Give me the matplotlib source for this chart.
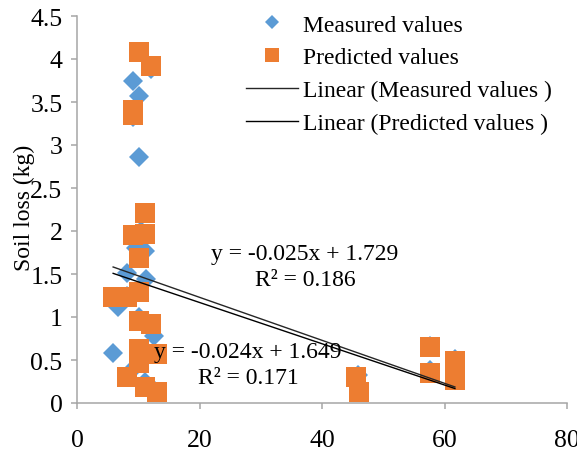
import matplotlib
matplotlib.use('Agg')
import matplotlib.pyplot as plt
import numpy as np

plt.rcParams['font.family'] = ['Liberation Serif', 'DejaVu Serif']

# measured soil loss (blue diamonds)
measured_x = [9.1, 10.1, 12.1, 9.1, 10.1, 11.1, 9.6, 8.1, 11.3, 6.7, 12.6, 5.9, 8.5,
              10.1, 10.1, 11.1, 12.5, 10.5, 8.1, 45.8, 46.0, 57.7, 57.7, 61.7, 61.7]
measured_y = [3.75, 3.57, 3.88, 3.33, 2.86, 1.77, 1.80, 1.51, 1.44, 1.12, 0.78, 0.58, 0.35,
              1.00, 0.60, 0.25, 0.15, 2.00, 1.25, 0.33, 0.15, 0.66, 0.38, 0.51, 0.30]

# predicted soil loss (orange squares)
predicted_x = [10.1, 12.1, 9.1, 9.1, 11.1, 9.1, 11.1, 10.1, 5.9, 8.1, 10.1, 10.1, 12.1,
               10.1, 10.1, 13.0, 8.1, 11.1, 13.0, 45.6, 46.0, 57.7, 57.7, 61.7, 61.7]
predicted_y = [4.08, 3.92, 3.41, 3.35, 2.21, 1.95, 1.97, 1.69, 1.23, 1.23, 1.29, 0.95, 0.92,
               0.63, 0.47, 0.57, 0.30, 0.19, 0.13, 0.30, 0.13, 0.65, 0.35, 0.49, 0.27]

# trendline coefficients (slope, intercept) and r squared
measured_fit = (-0.025, 1.729)
predicted_fit = (-0.024, 1.649)
measured_r2 = 0.186
predicted_r2 = 0.171

fig = plt.figure(figsize=(5.77, 4.77), dpi=100)
ax = fig.add_axes([77 / 577, 1 - 404 / 477, 490 / 577, 387 / 477])

ax.plot(measured_x, measured_y, 'D', color='#5B9BD5', markersize=9.7, markeredgewidth=0,
        label='Measured values', zorder=3)
ax.plot(predicted_x, predicted_y, 's', color='#ED7D31', markersize=14, markeredgewidth=0,
        label='Predicted values', zorder=4)

xs = np.array([min(measured_x), max(measured_x)])
ax.plot(xs, measured_fit[0] * xs + measured_fit[1], color='#262626', lw=1.0,
        label='Linear (Measured values )', zorder=5)
xs = np.array([min(predicted_x), max(predicted_x)])
ax.plot(xs, predicted_fit[0] * xs + predicted_fit[1], color='black', lw=1.0,
        label='Linear (Predicted values )', zorder=5)

ax.text(37.2, 1.59, 'y = %.3fx + %.3f\nR² = %.3f' % (measured_fit[0], measured_fit[1], measured_r2),
        ha='center', va='center', multialignment='center', fontsize=17, linespacing=1.3, zorder=6)
ax.text(27.9, 0.45, 'y = %.3fx + %.3f\nR² = %.3f' % (predicted_fit[0], predicted_fit[1], predicted_r2),
        ha='center', va='center', multialignment='center', fontsize=17, linespacing=1.3, zorder=6)

ax.set_xlim(0, 80)
ax.set_ylim(0, 4.5)
ax.set_xticks(np.arange(0, 81, 20))
ax.set_yticks(np.arange(0, 4.51, 0.5))
ax.set_yticklabels(['0', '0.5', '1', '1.5', '2', '2.5', '3', '3.5', '4', '4.5'])

for s in ['top', 'right']:
    ax.spines[s].set_visible(False)
for s in ['left', 'bottom']:
    ax.spines[s].set_color('#A6A6A6')
    ax.spines[s].set_linewidth(1.1)
ax.tick_params(axis='both', colors='#A6A6A6', labelcolor='black', labelsize=18.5, length=4.5, width=1.1)
ax.tick_params(axis='x', pad=14)
ax.tick_params(axis='y', pad=6)

ax.set_ylabel('Soil loss (kg)', fontsize=17, va='center')
ax.yaxis.set_label_coords(-0.108, 0.506)

ax.legend(loc='upper left', bbox_to_anchor=(246 / 577, 1 - 15 / 477), bbox_transform=fig.transFigure,
          frameon=False, fontsize=17, borderpad=0, borderaxespad=0, handlelength=2.2,
          handletextpad=0.2, labelspacing=0.48, markerscale=0.75)

plt.savefig('out.png', dpi=100)
